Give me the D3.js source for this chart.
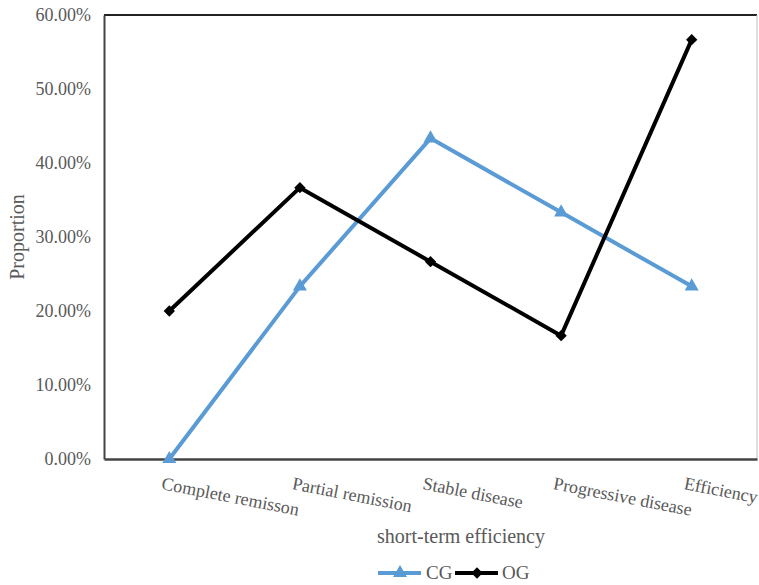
<!DOCTYPE html>
<html><head><meta charset="utf-8">
<script src="https://cdn.jsdelivr.net/npm/d3@7"></script>
<style>body{margin:0;background:#fff}svg{display:block}</style>
</head><body>
<svg id="c" width="759" height="585"></svg>
<script>
const categories = ["Complete remisson","Partial remission","Stable disease","Progressive disease","Efficiency"];
const cgValues = [0, 23.33, 43.33, 33.33, 23.33];
const ogValues = [20, 36.67, 26.67, 16.67, 56.67];
const yTicks = [0,10,20,30,40,50,60];

const svg = d3.select("#c");
const L=104, R=757, T=15, B=459;
const gray = "#595959";
const FF = '"Liberation Serif"';

const x = d3.scalePoint().domain(categories).range([L,R]).padding(0.5);
const y = d3.scaleLinear().domain([0,60]).range([B,T]);

// frame
svg.append("line").attr("x1",L).attr("x2",R).attr("y1",T).attr("y2",T).attr("stroke","#222").attr("stroke-width",2);
svg.append("line").attr("x1",R).attr("x2",R).attr("y1",T).attr("y2",B).attr("stroke","#bfbfbf").attr("stroke-width",1);

// y axis
const ya = svg.append("g").attr("transform",`translate(${L},0)`)
  .call(d3.axisLeft(y).tickValues(yTicks).tickSize(0).tickPadding(13).tickFormat(d=>d.toFixed(2)+"%"));
ya.attr("font-family",null);
ya.select(".domain").attr("stroke","#444").attr("stroke-width",2);
ya.selectAll("text").style("font-family",FF).style("font-size","18px").attr("fill",gray);

// x axis
const xa = svg.append("g").attr("transform",`translate(0,${B})`)
  .call(d3.axisBottom(x).tickSize(0).tickPadding(0));
xa.attr("font-family",null);
xa.select(".domain").attr("stroke","#444").attr("stroke-width",2.5);
xa.selectAll("text").style("font-family",FF).style("font-size","18px").attr("fill",gray)
  .attr("text-anchor","start").attr("dy",null).attr("y",0)
  .attr("transform","translate(-9,30) rotate(11)");

// titles
svg.append("text").attr("x",461).attr("y",543).attr("text-anchor","middle")
  .style("font-family",FF).style("font-size","20px").attr("fill",gray).text("short-term efficiency");
svg.append("text").attr("transform",`translate(24,${(T+B)/2}) rotate(-90)`).attr("text-anchor","middle")
  .style("font-family",FF).style("font-size","20px").attr("fill",gray).text("Proportion");

const line = d3.line().x((d,i)=>x(categories[i])).y(d=>y(d));
const blue = "#5B9BD5";
svg.append("path").datum(cgValues).attr("d",line).attr("fill","none").attr("stroke",blue).attr("stroke-width",4).attr("stroke-linejoin","round");
svg.append("path").datum(ogValues).attr("d",line).attr("fill","none").attr("stroke","#000").attr("stroke-width",4).attr("stroke-linejoin","round");

const tri = d3.symbol().type(d3.symbolTriangle).size(85);
const dia = d3.symbol().type(d3.symbolSquare).size(64);
svg.selectAll(".cgm").data(cgValues).join("path").attr("d",tri)
  .attr("transform",(d,i)=>`translate(${x(categories[i])},${y(d)})`).attr("fill",blue);
svg.selectAll(".ogm").data(ogValues).join("path").attr("d",dia)
  .attr("transform",(d,i)=>`translate(${x(categories[i])},${y(d)}) rotate(45)`).attr("fill","#000");

// legend
const ly = 573;
const lg = svg.append("g");
lg.append("line").attr("x1",378).attr("x2",421).attr("y1",ly).attr("y2",ly).attr("stroke",blue).attr("stroke-width",4);
lg.append("path").attr("d",tri).attr("transform",`translate(400,${ly})`).attr("fill",blue);
lg.append("text").attr("x",426).attr("y",ly+6).style("font-family",FF).style("font-size","19px").attr("fill",gray).text("CG");
lg.append("line").attr("x1",455).attr("x2",498).attr("y1",ly).attr("y2",ly).attr("stroke","#000").attr("stroke-width",4);
lg.append("path").attr("d",dia).attr("transform",`translate(477,${ly}) rotate(45)`).attr("fill","#000");
lg.append("text").attr("x",502).attr("y",ly+6).style("font-family",FF).style("font-size","19px").attr("fill",gray).text("OG");
</script>
</body></html>
